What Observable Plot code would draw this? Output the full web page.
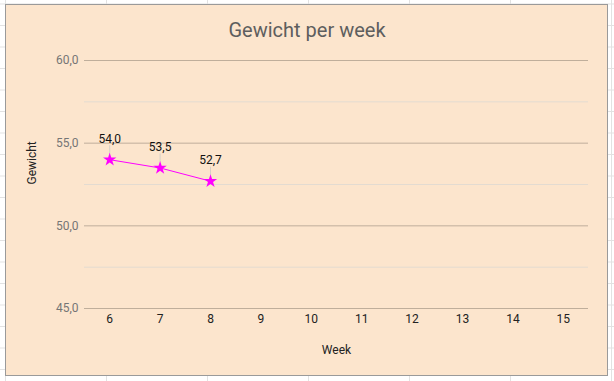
<!DOCTYPE html>
<html>
<head>
<meta charset="utf-8">
<script src="https://cdn.jsdelivr.net/npm/d3@7"></script>
<script src="https://cdn.jsdelivr.net/npm/@observablehq/plot@0.6"></script>
<style>
  html, body { margin: 0; padding: 0; }
  body {
    width: 614px; height: 381px; overflow: hidden; position: relative;
    background-color: #fff;
    background-image:
      linear-gradient(to right, #e2e2e2 1px, transparent 1px),
      linear-gradient(to bottom, #e2e2e2 1px, transparent 1px);
    background-size: 101px 100%, 100% 21.5px;
    background-position: 5px 0, 0 3.5px;
    font-family: Roboto, "Noto Sans", sans-serif;
  }
  #box {
    position: absolute; left: 5px; top: 4px; width: 601px; height: 370px;
    background: #fce5cd; border: 1px solid #9a9a9a;
  }
  #title {
    position: absolute; left: 0; top: 18px; width: 614px; text-align: center;
    font-size: 20px; color: #5e5e5e; font-family: Roboto, sans-serif;
  }
  #chart { position: absolute; left: 0; top: 0; }
</style>
</head>
<body>
<div id="box"></div>
<div id="title">Gewicht per week</div>
<div id="chart"></div>
<script>
const weekTicks = [6, 7, 8, 9, 10, 11, 12, 13, 14, 15];
const weeks = [6, 7, 8];
const weights = [54.0, 53.5, 52.7];
const yMajor = [45, 50, 55, 60];
const yMinor = [47.5, 52.5, 57.5];

const data = weeks.map((w, i) => ({week: w, weight: weights[i]}));
const fmt = d => d.toFixed(1).replace(".", ",");

const chart = Plot.plot({
  width: 614,
  height: 381,
  marginLeft: 84,
  marginRight: 26,
  marginTop: 60,
  marginBottom: 73,
  style: {background: "transparent", fontFamily: "Roboto, sans-serif", fontSize: "12px"},
  x: {type: "point", domain: weekTicks, padding: 0.5, round: false, label: null},
  y: {domain: [45, 60], label: null},
  marks: [
    Plot.ruleY(yMinor, {stroke: "#e3dbd1", strokeWidth: 1}),
    Plot.ruleY(yMajor, {stroke: "#bfae9b", strokeWidth: 1}),
    Plot.axisY(yMajor, {tickSize: 0, tickPadding: 6, tickFormat: fmt, fill: "#757575", fontSize: 12}),
    Plot.axisX(weekTicks, {tickSize: 0, tickPadding: 6, fill: "#222", fontSize: 12}),
    Plot.text(["Gewicht"], {frameAnchor: "left", dx: -52, rotate: -90, fill: "#222", fontSize: 12}),
    Plot.text(["Week"], {frameAnchor: "bottom", dy: 45, fill: "#222", fontSize: 12}),
    Plot.ruleX(data, {x: "week", y1: "weight", y2: "weight", insetTop: -14, insetBottom: 5, stroke: "#d6d0c8", strokeWidth: 1}),
    Plot.line(data, {x: "week", y: "weight", stroke: "#ff00ff", strokeWidth: 1}),
    Plot.dot(data, {x: "week", y: "weight", symbol: "star", r: 4.2, fill: "#ff00ff", stroke: "none"}),
    Plot.text(data, {x: "week", y: "weight", text: d => fmt(d.weight), dy: -21, fill: "#111", fontSize: 12})
  ]
});
document.getElementById("chart").appendChild(chart);
</script>
</body>
</html>
